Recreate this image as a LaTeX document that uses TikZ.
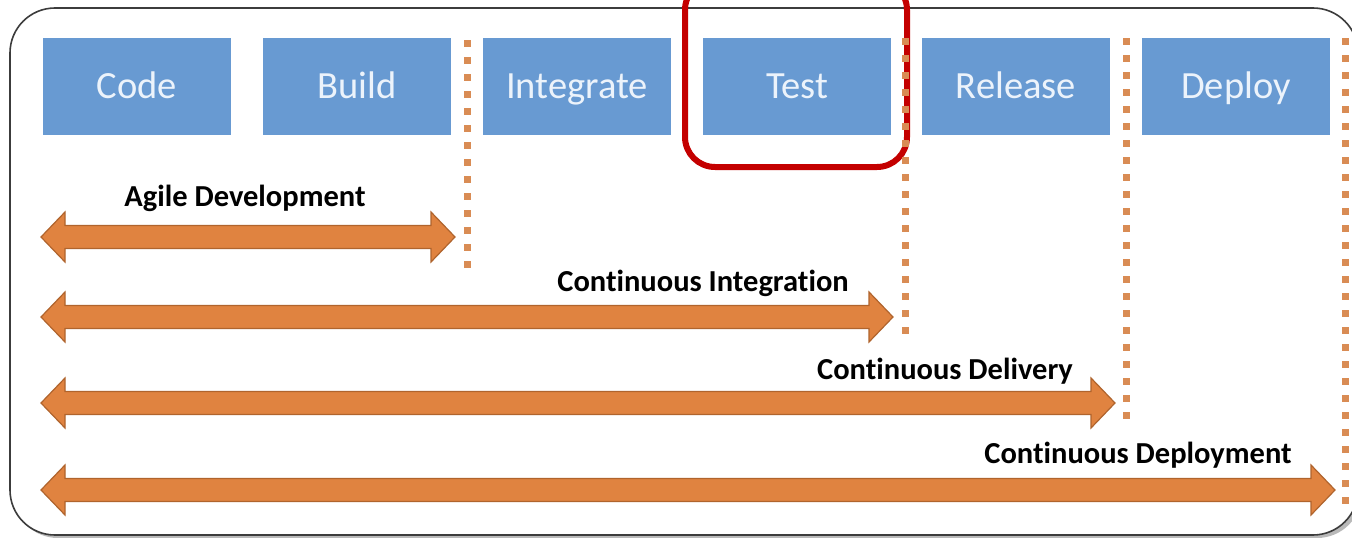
\documentclass[tikz,border=0pt]{standalone}
\usepackage{fontspec}
\setmainfont{Carlito}[Ligatures=NoCommon]
\definecolor{boxblue}{RGB}{104,154,210}
\definecolor{boxtext}{RGB}{236,243,251}
\definecolor{arrfill}{RGB}{224,131,64}
\definecolor{arrline}{RGB}{176,100,45}
\definecolor{dotcol}{RGB}{217,140,84}
\definecolor{redbox}{RGB}{196,0,0}
\definecolor{framecol}{RGB}{60,60,60}
\tikzset{
  stagebox/.style={fill=boxblue, text=boxtext, minimum width=188pt, minimum height=97pt, inner sep=0pt, text height=28pt, text depth=4pt, font=\fontsize{38.5}{42}\selectfont},
  phaselabel/.style={font=\bfseries\fontsize{30.5}{34}\selectfont, text=black, inner sep=0pt},
  dotline/.style={dotcol, line width=7pt, dash pattern=on 7pt off 10pt},
  arrsty/.style={fill=arrfill, draw=arrline, line width=1.2pt, line join=miter}
}
\newcommand{\dblarrow}[3]{%
  \draw[arrsty] (#1,#3) -- ({#1+24},{#3-25}) -- ({#1+24},{#3-11.5}) -- ({#2-24},{#3-11.5}) -- ({#2-24},{#3-25}) -- (#2,#3) -- ({#2-24},{#3+25}) -- ({#2-24},{#3+11.5}) -- ({#1+24},{#3+11.5}) -- ({#1+24},{#3+25}) -- cycle;}
\begin{document}
\begin{tikzpicture}[x=1pt,y=-1pt]
\useasboundingbox (0,0) rectangle (1352,538);
% frame with shadow
\fill[gray!55, rounded corners=45pt] (13,12) rectangle (1362,538);
\draw[framecol, fill=white, line width=1.6pt, rounded corners=45pt] (10,8) rectangle (1358,535);
% stage boxes
\node[stagebox] (code) at (137,86.5) {Code};
\node[stagebox] (build) at (357,86.5) {Build};
\node[stagebox] (integrate) at (577,86.5) {Integrate};
\node[stagebox] (test) at (797,86.5) {Test};
\node[stagebox] (release) at (1016,86.5) {Release};
\node[stagebox] (deploy) at (1236,86.5) {Deploy};
% red highlight
\draw[redbox, line width=6pt, rounded corners=30pt] (685,-20) rectangle (907,167);
% dotted separators
\coordinate (d1a) at (467,40); \coordinate (d1b) at (467,272);
\coordinate (d2a) at (905,38); \coordinate (d2b) at (905,342);
\coordinate (d3a) at (1126,38); \coordinate (d3b) at (1126,427);
\coordinate (d4a) at (1345,38); \coordinate (d4b) at (1345,512);
\draw[dotline] (d1a) -- (d1b);
\draw[dotline] (d2a) -- (d2b);
\draw[dotline] (d3a) -- (d3b);
\draw[dotline] (d4a) -- (d4b);
% arrows
\dblarrow{41}{455}{237}
\dblarrow{41}{893}{317}
\dblarrow{41}{1115}{403}
\dblarrow{41}{1335}{490}
% labels
\node[phaselabel] (l1) at (245,198) {Agile Development};
\node[phaselabel] (l2) at (703,283) {Continuous Integration};
\node[phaselabel] (l3) at (945,371) {Continuous Delivery};
\node[phaselabel] (l4) at (1138,455) {Continuous Deployment};
\end{tikzpicture}
\end{document}
